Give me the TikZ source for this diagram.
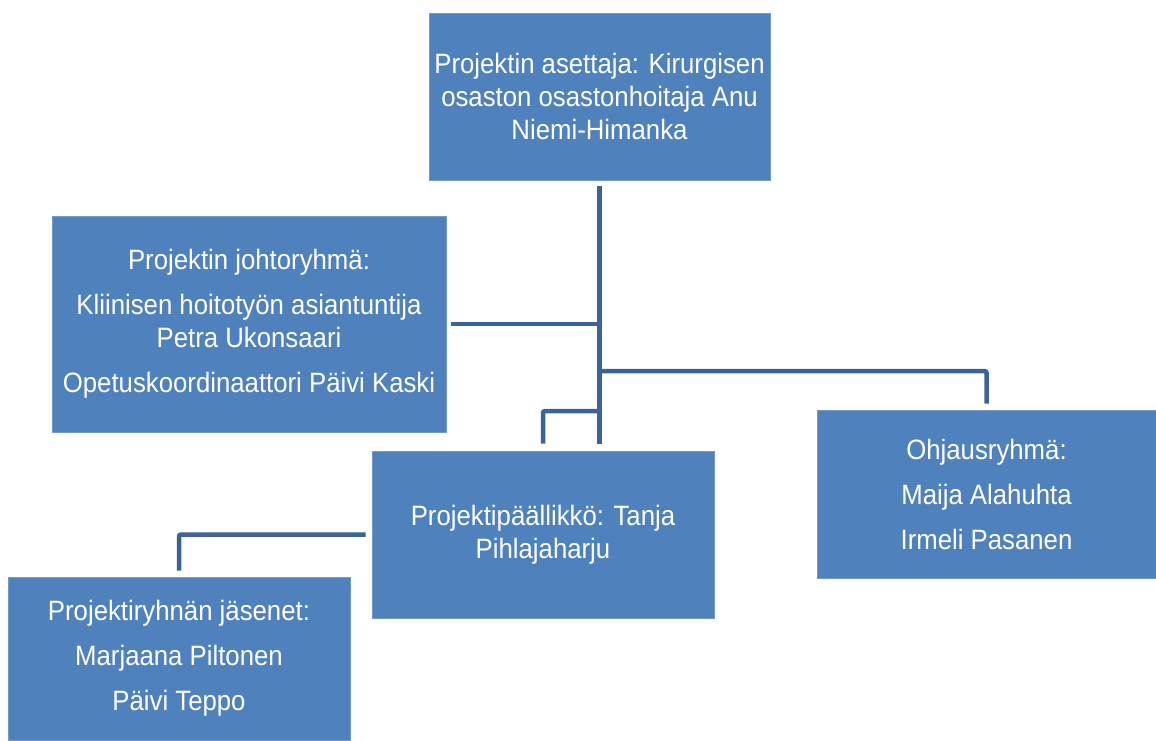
\documentclass[tikz,border=0pt]{standalone}
\usepackage{fontspec}
\setmainfont{Liberation Sans}[FakeStretch=0.92]
\usepackage{tikz}
\usetikzlibrary{positioning}

\definecolor{boxblue}{HTML}{4F81BD}
\definecolor{lineblue}{HTML}{3B6397}

\tikzset{
  orgbox/.style={fill=boxblue, draw=boxblue!80!white, line width=0.8pt, text=white,
    align=center, inner sep=0pt, font=\fontsize{28}{33}\selectfont},
  conn/.style={draw=lineblue, line width=4.5pt, rounded corners=2pt}
}

\begin{document}
\begin{tikzpicture}[x=1pt, y=-1pt]
    \useasboundingbox (0,0) rectangle (1156,740);

    % Boxes
    \node[orgbox, minimum width=341pt, minimum height=167pt] (top) at (599.5,96.5)
      {Projektin asettaja: Kirurgisen\\osaston osastonhoitaja Anu\\Niemi-Himanka};
    \node[orgbox, minimum width=394pt, minimum height=216pt] (lead) at (249,324)
      {Projektin johtoryhmä:\\[12pt]Kliinisen hoitotyön asiantuntija\\Petra Ukonsaari\\[12pt]Opetuskoordinaattori Päivi Kaski};
    \node[orgbox, minimum width=342pt, minimum height=167pt] (mid) at (543,534.5)
      {Projektipäällikkö: Tanja\\Pihlajaharju};
    \node[orgbox, minimum width=339pt, minimum height=168pt] (steer) at (986.5,494)
      {Ohjausryhmä:\\[12pt]Maija Alahuhta\\[12pt]Irmeli Pasanen};
    \node[orgbox, minimum width=342pt, minimum height=163pt] (team) at (179,658.5)
      {Projektiryhnän jäsenet:\\[12pt]Marjaana Piltonen\\[12pt]Päivi Teppo};

    % Connectors
    \coordinate (j1) at (599,371);
    \coordinate (j2) at (599,411);
    \draw[conn] ([yshift=-6pt]top.south) -- ([yshift=7pt]mid.north -| top.south);
    \draw[conn] ([xshift=5pt]lead.east) -- (lead.east -| top.south);
    \draw[conn] (j1) -- (j1 -| steer.north) -- ([yshift=6pt]steer.north);
    \draw[conn] (j2) -- (j2 -| mid.north) -- ([yshift=7pt]mid.north);
    \draw[conn] ([xshift=-6pt]mid.west) -- (mid.west -| team.north) -- ([yshift=6pt]team.north);
\end{tikzpicture}
\end{document}
